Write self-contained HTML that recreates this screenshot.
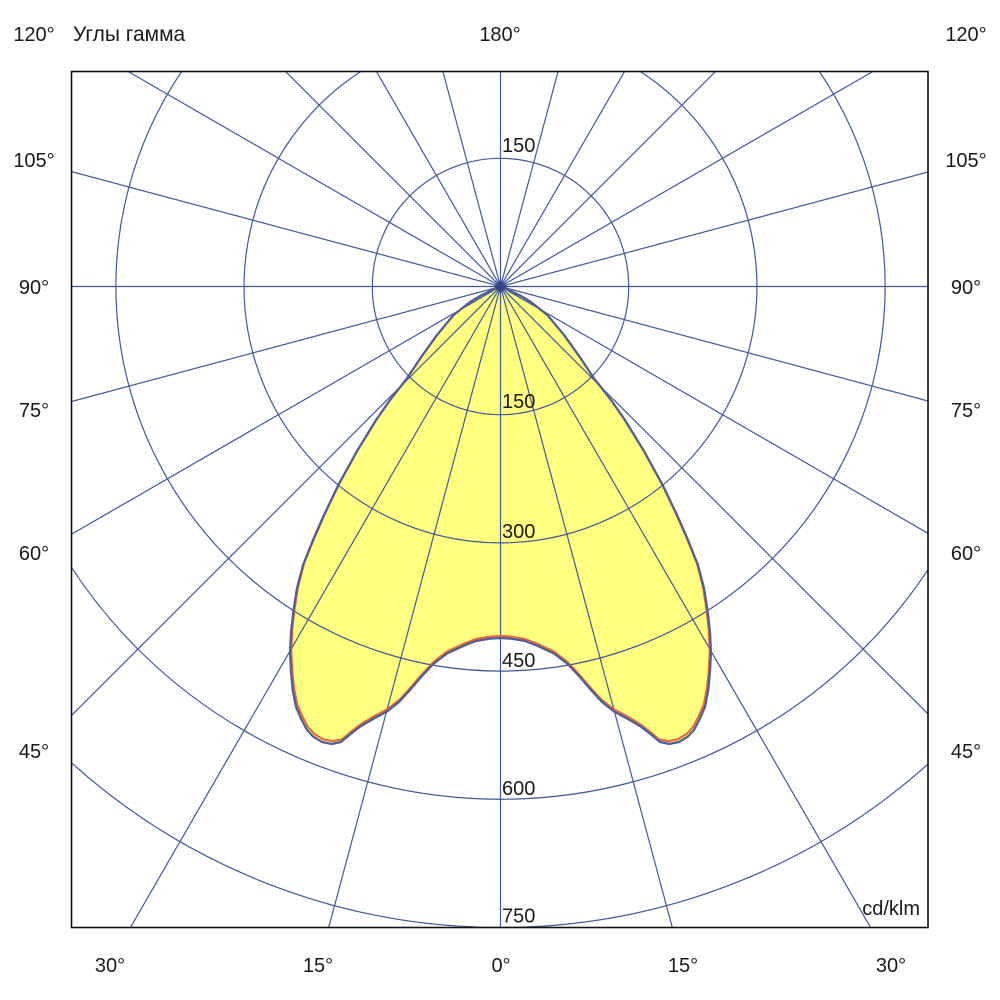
<!DOCTYPE html>
<html>
<head>
<meta charset="utf-8">
<style>
  html, body { margin: 0; padding: 0; background: #fff; width: 1000px; height: 1000px; overflow: hidden; }
  svg { display: block; }
  text { font-family: "Liberation Sans", "Noto Sans CJK SC", sans-serif; font-size: 20px; fill: #1a1a1a; }
</style>
</head>
<body>
<svg width="1000" height="1000" viewBox="0 0 1000 1000" xmlns="http://www.w3.org/2000/svg">
  <defs>
    <clipPath id="box">
      <rect x="71.5" y="71.5" width="856.5" height="856"/>
    </clipPath>
    <polygon id="curve" points="
      500.5,286.5 491.7,290.3 480,296 470,302 453.3,315.3 436.7,335.3 420,358.7 406.7,378.7 390,400 376.7,419
      357,451 338.3,485 324,515 313,540 303,565 297,588 293.5,610 291,632 290,653 291,672 292.7,690
      296,707 301.7,720 307,730 313.3,736.7 322,742 331.7,744 341,742 350,734.5 360,726.7 373,719 386.7,711.7
      399,702 410,690 422,676 433.3,664 447,653.5 463.3,646 476,641 490,638.7 500.5,638
      511,638.7 525,641 537.7,646 554,653.5 567.7,664 579,676 591,690 602,702 614.3,711.7 628,719 641,726.7
      651,734.5 660,742 669.3,744 679,742 687.7,736.7 694,730 699.3,720 705,707 708.3,690 710,672 711,653
      710,632 707.5,610 704,588 698,565 688,540 677,515 662.7,485 644,451 624.3,419 611,400
      594.3,378.7 581,358.7 564.3,335.3 547.7,315.3 531,302 521,296 509.3,290.3"/>
  </defs>
  <rect x="0" y="0" width="1000" height="1000" fill="#fff"/>

  <g clip-path="url(#box)">
    <!-- fill -->
    <use href="#curve" fill="#ffff80" stroke="none"/>

    <!-- grid circles (as arcs inside the frame) -->
    <g fill="none" stroke="#40589a" stroke-width="1.2">
      <circle cx="500.5" cy="286.5" r="128.2"/>
      <path d="M360.8,71.5 A256.4,256.4 0 1 0 640.2,71.5"/>
      <path d="M181.6,71.5 A384.6,384.6 0 1 0 819.4,71.5"/>
      <path d="M71.5,567.4 A512.8,512.8 0 0 0 928,569.7"/>
      <path d="M71.5,762.8 A641,641 0 0 0 928,764.1"/>
    </g>
    <!-- spokes -->
    <g stroke="#40589a" stroke-width="1.2">
      <line x1="500.5" y1="71.5" x2="500.5" y2="927.5"/>
      <line x1="442.9" y1="71.5" x2="672.3" y2="927.5"/>
      <line x1="558.1" y1="71.5" x2="328.7" y2="927.5"/>
      <line x1="376.4" y1="71.5" x2="870.6" y2="927.5"/>
      <line x1="624.6" y1="71.5" x2="130.4" y2="927.5"/>
      <line x1="285.5" y1="71.5" x2="928" y2="714"/>
      <line x1="715.5" y1="71.5" x2="71.5" y2="715.5"/>
      <line x1="128.1" y1="71.5" x2="928" y2="533.3"/>
      <line x1="872.9" y1="71.5" x2="71.5" y2="534.2"/>
      <line x1="71.5" y1="171.6" x2="928" y2="401"/>
      <line x1="928" y1="172" x2="71.5" y2="401.5"/>
      <line x1="71.5" y1="286.5" x2="928" y2="286.5"/>
    </g>

    <!-- curve outlines -->
    <use href="#curve" fill="none" stroke="#e8623a" stroke-width="2" stroke-linejoin="round"
         transform="translate(500.5 286.5) scale(0.994) translate(-500.5 -286.5)"/>
    <use href="#curve" fill="none" stroke="#4a5f9c" stroke-width="2.2" stroke-linejoin="round"/>

    <!-- center diamond -->
    <polygon points="500.5,280 507,286.5 500.5,293 494,286.5" fill="#2f4784"/>
  </g>

  <!-- frame -->
  <rect x="71.5" y="71.5" width="856.5" height="856" fill="none" stroke="#111" stroke-width="1.6"/>

  <!-- circle value labels -->
  <text x="502" y="152">150</text>
  <text x="502" y="408">150</text>
  <text x="502" y="538">300</text>
  <text x="502" y="667">450</text>
  <text x="502" y="795">600</text>
  <text x="502" y="922.5">750</text>
  <text x="920" y="915" text-anchor="end">cd/klm</text>

  <!-- top labels -->
  <text x="34" y="41" text-anchor="middle">120°</text>
  <text x="73" y="41" style="font-size:21px">Углы гамма</text>
  <text x="500" y="41" text-anchor="middle">180°</text>
  <text x="966" y="41" text-anchor="middle">120°</text>

  <!-- left labels -->
  <text x="34" y="167" text-anchor="middle">105°</text>
  <text x="34" y="294" text-anchor="middle">90°</text>
  <text x="34" y="417" text-anchor="middle">75°</text>
  <text x="34" y="560" text-anchor="middle">60°</text>
  <text x="34" y="758" text-anchor="middle">45°</text>

  <!-- right labels -->
  <text x="966" y="167" text-anchor="middle">105°</text>
  <text x="966" y="294" text-anchor="middle">90°</text>
  <text x="966" y="417" text-anchor="middle">75°</text>
  <text x="966" y="560" text-anchor="middle">60°</text>
  <text x="966" y="758" text-anchor="middle">45°</text>

  <!-- bottom labels -->
  <text x="110" y="972" text-anchor="middle">30°</text>
  <text x="318" y="972" text-anchor="middle">15°</text>
  <text x="501" y="972" text-anchor="middle">0°</text>
  <text x="683" y="972" text-anchor="middle">15°</text>
  <text x="891" y="972" text-anchor="middle">30°</text>
</svg>
</body>
</html>
